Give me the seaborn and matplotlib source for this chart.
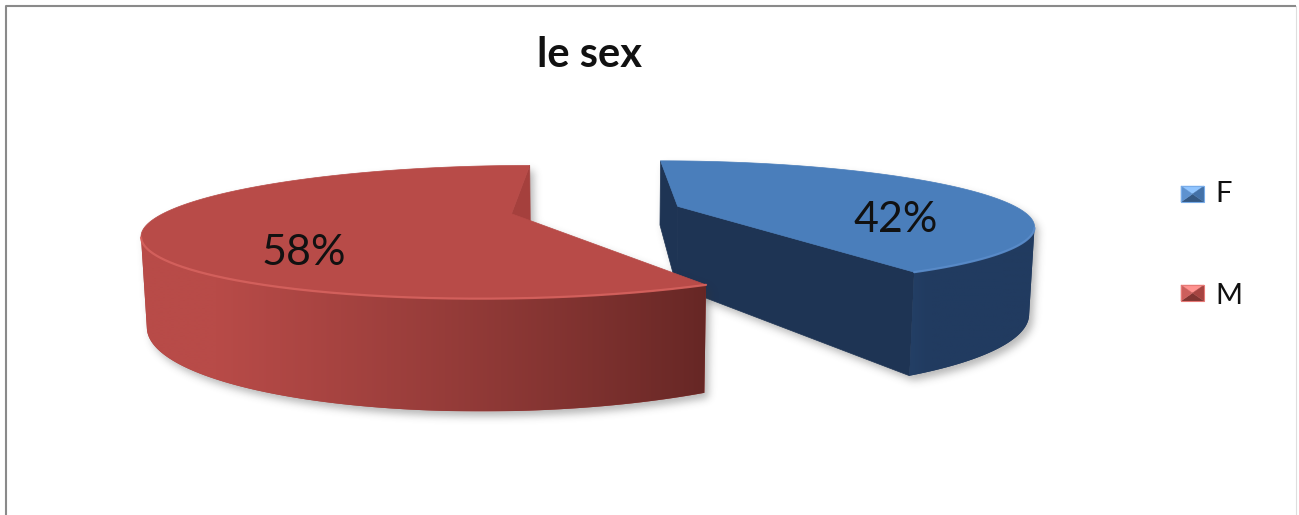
import numpy as np
import matplotlib
matplotlib.use("Agg")
import matplotlib.pyplot as plt
from matplotlib.patches import Polygon
from matplotlib.collections import PatchCollection
import seaborn as sns

# ---- data ----
title = "le sex"
categories = ["F", "M"]
shares = [42, 58]
value_labels = ["42%", "58%"]

sns.set_theme(style="white")
plt.rcParams["font.family"] = ["Lato", "DejaVu Sans"]

# colours per category: top face, lit side, shaded side, cut face, rim highlight
top_hex = sns.color_palette(["#4A7EBB", "#B84B48"])
side_light = [(74, 126, 187), (184, 75, 72)]
side_dark = [(33, 59, 96), (98, 37, 35)]
cut_face = [(30, 52, 84), (165, 64, 61)]
rim_glow = [(90, 140, 202), (214, 98, 94)]


def rgb(c):
    return tuple(v / 255.0 for v in c)


# ---- camera / solid geometry (pixel space) ----
W, H = 1299, 515
SCALE = 343.0
CX, CY = 596.0, 210.0
ELEV = np.radians(10.0)
DIST = 3.65
EXPLODE = 0.25
THICK = 0.245
SE, CE = np.sin(ELEV), np.cos(ELEV)
CAM = np.array([0.0, DIST * SE, -DIST * CE])
LIGHT = np.array([-0.9, 0.0, -0.44])
LIGHT = LIGHT / np.linalg.norm(LIGHT)


def project(pts):
    pts = np.atleast_2d(pts)
    x, y, z = pts[:, 0], pts[:, 1], pts[:, 2]
    depth = DIST + z * CE - y * SE
    f = DIST / depth
    return np.column_stack([CX + SCALE * x * f, CY - SCALE * (y * CE + z * SE) * f]), depth


def facing(p, n):
    return np.dot(CAM - p, n) > 0


def build_slice(t0, t1, i):
    tm = np.radians((t0 + t1) / 2)
    off = np.array([EXPLODE * np.sin(tm), 0.0, EXPLODE * np.cos(tm)])

    def rim(t, y):
        r = np.radians(t)
        return off + np.array([np.sin(r), y, np.cos(r)])

    ctop = off.copy()
    cbot = off + np.array([0.0, -THICK, 0.0])
    ts = np.linspace(t0, t1, int(np.ceil(t1 - t0)) * 2 + 1)
    vis_ts, vis_cols = [], []
    dark, light = np.array(side_dark[i]), np.array(side_light[i])
    for t in ts:
        r = np.radians(t)
        n = np.array([np.sin(r), 0.0, np.cos(r)])
        if facing(rim(t, -THICK / 2), n):
            k = np.clip(np.dot(n, LIGHT) + 0.1, 0, 1)
            vis_ts.append(t)
            vis_cols.append((dark + k * (light - dark)) / 255)
    band = None
    if vis_ts:
        band = np.array([rim(t, 0) for t in vis_ts] + [rim(t, -THICK) for t in vis_ts[::-1]])
    shade = None
    if vis_ts:
        xs = project(np.array([rim(t, -THICK / 2) for t in vis_ts]))[0][:, 0]
        shade = (xs, np.array(vis_cols))
    cuts = []
    r0, r1 = np.radians(t0), np.radians(t1)
    n0 = np.array([-np.cos(r0), 0.0, np.sin(r0)])
    n1 = np.array([np.cos(r1), 0.0, -np.sin(r1)])
    for t, n in ((t0, n0), (t1, n1)):
        if facing(ctop, n):
            quad = np.array([ctop, rim(t, 0), rim(t, -THICK), cbot])
            cuts.append((quad, rgb(cut_face[i])))
    top = np.vstack([ctop[None, :], np.array([rim(t, 0) for t in ts])])
    glow = np.array([rim(t, 0) for t in vis_ts]) if vis_ts else None
    return off, band, shade, cuts, top, glow


def gaussian(sigma):
    r = int(3 * sigma)
    x = np.arange(-r, r + 1)
    k = np.exp(-x ** 2 / (2 * sigma ** 2))
    return k / k.sum()


class SoftShadow:
    def __init__(self, sigma=4.0, offset=(4, 5), alpha=0.35):
        self.sigma, self.offset, self.alpha = sigma, offset, alpha

    def __call__(self, im, dpi):
        pad = int(3 * self.sigma) + max(abs(v) for v in self.offset) + 2
        a = np.pad(im[..., 3], pad)
        k = gaussian(self.sigma)
        a = np.apply_along_axis(lambda v: np.convolve(v, k, mode="same"), 0, a)
        a = np.apply_along_axis(lambda v: np.convolve(v, k, mode="same"), 1, a)
        a = np.roll(a, self.offset[0], axis=1)
        a = np.roll(a, self.offset[1], axis=0)
        out = np.zeros(a.shape + (4,))
        out[..., :3] = 0.2
        out[..., 3] = np.clip(a * self.alpha, 0, 1)
        return out, -pad, -pad


fig = plt.figure(figsize=(W / 100, H / 100), dpi=100)
ax = fig.add_axes([0, 0, 1, 1])
ax.axis("off")

bounds = np.concatenate([[0], np.cumsum(shares)]) / np.sum(shares) * 360.0
slices = [build_slice(bounds[i], bounds[i + 1], i) for i in range(len(shares))]
order = sorted(range(len(slices)), key=lambda i: -slices[i][0][2])

z = 2
for i in order:
    off, band, shade, cuts, top, glow = slices[i]
    faces = [q for q, _ in cuts] + [top] + ([band] if band is not None else [])
    shadow = PatchCollection([Polygon(project(q)[0], closed=True) for q in faces],
                             facecolor="k", edgecolor="none", zorder=z)
    shadow.set_agg_filter(SoftShadow())
    ax.add_collection(shadow)
    z += 1
    # far-to-near: cut faces and the curved rim band
    items = [(project(q)[1].mean(), "cut", q, c) for q, c in cuts]
    if band is not None:
        items.append((project(band)[1].mean(), "rim", band, None))
    for _, kind, q, c in sorted(items, key=lambda t: -t[0]):
        if kind == "cut":
            ax.add_patch(Polygon(project(q)[0], closed=True, facecolor=c,
                                 edgecolor=c, lw=0.5, zorder=z))
            z += 1
        else:
            xs, cols = shade
            srt = np.argsort(xs)
            xs, cols = xs[srt], cols[srt]
            poly2d = project(q)[0]
            base = cols[len(cols) // 2]
            patch = Polygon(poly2d, closed=True, facecolor=base, edgecolor="none", zorder=z)
            ax.add_patch(patch)
            z += 1
            x0, x1 = np.floor(poly2d[:, 0].min()), np.ceil(poly2d[:, 0].max())
            y0, y1 = poly2d[:, 1].min(), poly2d[:, 1].max()
            grid = np.arange(x0, x1 + 1)
            img = np.stack([np.interp(grid, xs, cols[:, c]) for c in range(3)], axis=-1)[None, :, :]
            im = ax.imshow(img, extent=[x0, x1, y1, y0], aspect="auto",
                           interpolation="bilinear", zorder=z)
            im.set_clip_path(patch)
            z += 1
    tc = top_hex[i]
    ax.add_patch(Polygon(project(top)[0], closed=True, facecolor=tc,
                         edgecolor=tc, lw=0.5, zorder=z))
    z += 1
    if glow is not None:
        g = project(glow)[0]
        ax.plot(g[:, 0], g[:, 1], color=rgb(rim_glow[i]), lw=1.6, alpha=0.9,
                solid_capstyle="round", zorder=z)
        z += 1

# value labels on the slices
label_pos = [(896, 232), (304, 265)]
for (lx, ly), txt in zip(label_pos, value_labels):
    ax.text(lx, ly, txt, ha="center", va="baseline", fontsize=31,
            color="#111111", zorder=z + 1)

# title
ax.text(590, 67, title, ha="center", va="baseline", fontsize=30,
        fontweight="bold", color="#111111")


# legend with bevelled swatches
def bevel(x, y, w, h, base):
    base = np.array(base) / 255.0
    cx, cy = x + w / 2, y + h / 2
    light = np.clip(base + 0.28, 0, 1)
    dark = base * 0.7
    tris = [
        ([(x, y), (x + w, y), (cx, cy)], light),
        ([(x, y + h), (x + w, y + h), (cx, cy)], dark),
        ([(x, y), (x, y + h), (cx, cy)], np.clip(base + 0.08, 0, 1)),
        ([(x + w, y), (x + w, y + h), (cx, cy)], base * 0.9),
    ]
    for pts, c in tris:
        ax.add_patch(Polygon(pts, closed=True, facecolor=c, edgecolor=c, lw=0.3, zorder=20))
    ax.add_patch(plt.Rectangle((x, y), w, h, fill=False,
                               edgecolor=np.clip(base + 0.18, 0, 1), lw=0.8, zorder=21))


legend_rows = [(186, 202), (285, 304)]
for (sy, by), cat, base in zip(legend_rows, categories, side_light):
    bevel(1181, sy, 23, 16, base)
    ax.text(1215, by, cat, ha="left", va="baseline", fontsize=21, color="#111111")

# chart frame
ax.plot([6, 6, 1296], [H, 6, 6], color="#8a8a8a", lw=1.5, solid_capstyle="butt", zorder=30)
ax.plot([1296, 1296], [6, H], color="#dedede", lw=0.8, zorder=30)

ax.set_xlim(0, W)
ax.set_ylim(H, 0)
fig.savefig("out.png", dpi=100)
